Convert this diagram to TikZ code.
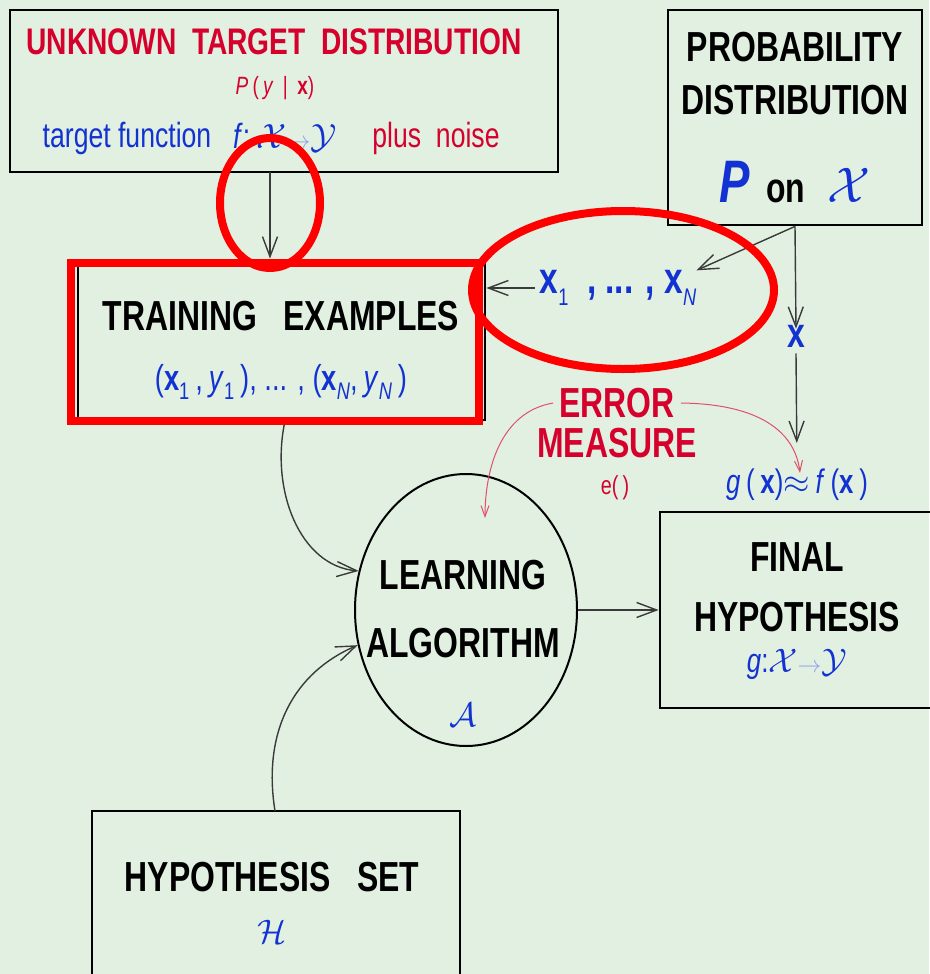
\RequirePackage{fix-cm}
\documentclass[tikz,border=0pt]{standalone}
\usepackage{fontspec}
\setmainfont{Liberation Sans}[FakeStretch=0.76]
\usepackage{xcolor}
\usetikzlibrary{arrows.meta,positioning,shapes.geometric}
\definecolor{mlbg}{HTML}{E2F0E2}
\definecolor{mlred}{HTML}{D6002C}
\definecolor{mlblue}{HTML}{1232D2}
\definecolor{mlline}{HTML}{3A3A3A}
\definecolor{mlpink}{HTML}{E0506A}
\definecolor{mlmark}{HTML}{FF0000}
\newcommand{\mlsize}[1]{\fontsize{#1}{#1}\selectfont}
\newcommand{\mlsub}[1]{\raisebox{-0.5ex}{\mlsize{24}\mdseries #1}}
\newcommand{\mlmap}{$\mathcal{X}\textcolor{mlblue!45}{\scalebox{0.7}{$\rightarrow$}}\mathcal{Y}$}

\begin{document}
\begin{tikzpicture}[x=1pt,y=-1pt,
    box/.style={draw=black,line width=2.8pt,inner sep=0pt},
    head/.style={font=\bfseries\mlsize{42},inner sep=0pt},
    bluetext/.style={text=mlblue,inner sep=0pt},
    arr/.style={draw=mlline,line width=1.4pt,-{Straight Barb[length=20pt,width=15pt]}},
    pinkarr/.style={draw=mlpink,line width=1pt,-{Straight Barb[length=11pt,width=8pt]}},
    redmark/.style={draw=mlmark,line width=8pt}]
  \fill[mlbg] (0,0) rectangle (929,974);
  \useasboundingbox (0,0) rectangle (929,974);

  % boxes
  \node[box,minimum width=548,minimum height=162] (tgt) at (284,91) {};
  \node[box,minimum width=254,minimum height=215] (prob) at (795,117.5) {};
  \node[box,minimum width=407,minimum height=160] (train) at (281.5,340) {};
  \node[box,minimum width=275,minimum height=196] (final) at (797.5,610) {};
  \node[box,minimum width=368,minimum height=169] (hyp) at (276,895.5) {};
  \node[draw=black,line width=2pt,ellipse,inner sep=0pt,minimum width=222,minimum height=272] (learn) at (466,610) {};

  % target distribution
  \node[head,text=mlred,font=\bfseries\mlsize{37}] (tgttitle) at (274,42) {UNKNOWN\ \ TARGET\ \ DISTRIBUTION};
  \node[text=mlred,inner sep=0pt,font=\mlsize{25}] (tgtcond) at (275,88) {\textit{P}\,(\,\textit{y}\, | \,\textbf{x})};
  \node[bluetext,font=\mlsize{35}] (tgtfn) at (127,138) {target function};
  \node[bluetext,font=\mlsize{35}] (tgtmap) at (285,138) {\textit{f}:\,\mlmap};
  \node[text=mlred,inner sep=0pt,font=\mlsize{35}] (tgtnoise) at (436,138) {plus\ \ noise};

  % probability distribution
  \node[head] (probl1) at (795,47) {PROBABILITY};
  \node[head] (probl2) at (795,100) {DISTRIBUTION};
  \node[inner sep=0pt] (probl3) at (795,182) {\textcolor{mlblue}{\mlsize{60}\bfseries\itshape P}\hspace{16pt}{\mlsize{42}\bfseries on}\hspace{22pt}\textcolor{mlblue}{\mlsize{50}$\mathcal{X}$}};

  % training examples
  \node[head] (trainl1) at (281,316) {TRAINING\ \ \ EXAMPLES};
  \node[bluetext,font=\mlsize{36}] (trainl2) at (281,382) {(\textbf{x}\mlsub{1}\,,\,\textit{y}\mlsub{1}\,), ... , (\textbf{x}\mlsub{\textit{N}},\,\textit{y}\mlsub{\textit{N}}\,)};

  % inputs
  \node[bluetext,font=\bfseries\mlsize{44}] (xs) at (618,288) {x\mlsub{1}\ \ , ... , x\mlsub{\textit{N}}};
  \node[bluetext,font=\bfseries\mlsize{42}] (xone) at (796,336) {x};

  % error measure
  \node[head,text=mlred] (errl1) at (617,403) {ERROR};
  \node[head,text=mlred] (errl2) at (617,443) {MEASURE};
  \node[text=mlred,inner sep=0pt,font=\mlsize{26}] (errfn) at (615,488) {e(\,)};
  \node[bluetext,font=\mlsize{34}] (approx) at (797,485) {\textit{g}\,(\,\textbf{x})$\approx$\,\textit{f}\,(\textbf{x}\,)};

  % learning algorithm
  \node[head] (learnl1) at (463,575) {LEARNING};
  \node[head] (learnl2) at (463,643) {ALGORITHM};
  \node[bluetext,font=\mlsize{34}] (learnl3) at (463,715) {$\mathcal{A}$};

  % final hypothesis
  \node[head] (finall1) at (797,557) {FINAL};
  \node[head] (finall2) at (797,617) {HYPOTHESIS};
  \node[bluetext,font=\mlsize{34}] (finall3) at (797,664) {\textit{g}:\mlmap};

  % hypothesis set
  \node[head] (hypl1) at (272,877) {HYPOTHESIS\ \ \ SET};
  \node[bluetext,font=\mlsize{34}] (hypl2) at (272,932) {$\mathcal{H}$};

  % connectors
  \coordinate (tgtout) at (270,172);
  \draw[arr] (tgtout) -- (tgtout |- train.north);
  \draw[arr] (xs.west) ++(-5,0) coordinate (xsin) -- (xsin -| train.east);
  \draw[arr] (prob.south) -- (xs.north east);
  \draw[arr] (prob.south) -- ([yshift=-4pt]xone.north);
  \draw[arr,shorten >=26pt] ([yshift=-6pt]xone.south) -- (approx.north);
  \draw[arr] (learn.east) -- (final.west |- learn.east);
  \coordinate (trainout) at (285,421);
  \draw[arr] (trainout) .. controls (270,490) and (300,566) .. (learn.160);
  \coordinate (hypout) at (275,811);
  \draw[arr] (hypout) .. controls (262,730) and (295,672) .. (learn.198);
  \coordinate (errin) at (485,518);
  \draw[pinkarr] ([xshift=-6pt]errl1.west) .. controls (500,412) and (485,470) .. (errin);
  \draw[pinkarr] ([xshift=6pt]errl1.east) .. controls (760,404) and (795,432) .. ([xshift=3pt,yshift=-4pt]approx.north);

  % red marks
  \draw[redmark] (270,203) ellipse [x radius=50,y radius=65];
  \draw[redmark] (71,263) rectangle (479,421);
  \draw[redmark] (623,290) ellipse [x radius=151,y radius=79];
\end{tikzpicture}
\end{document}
